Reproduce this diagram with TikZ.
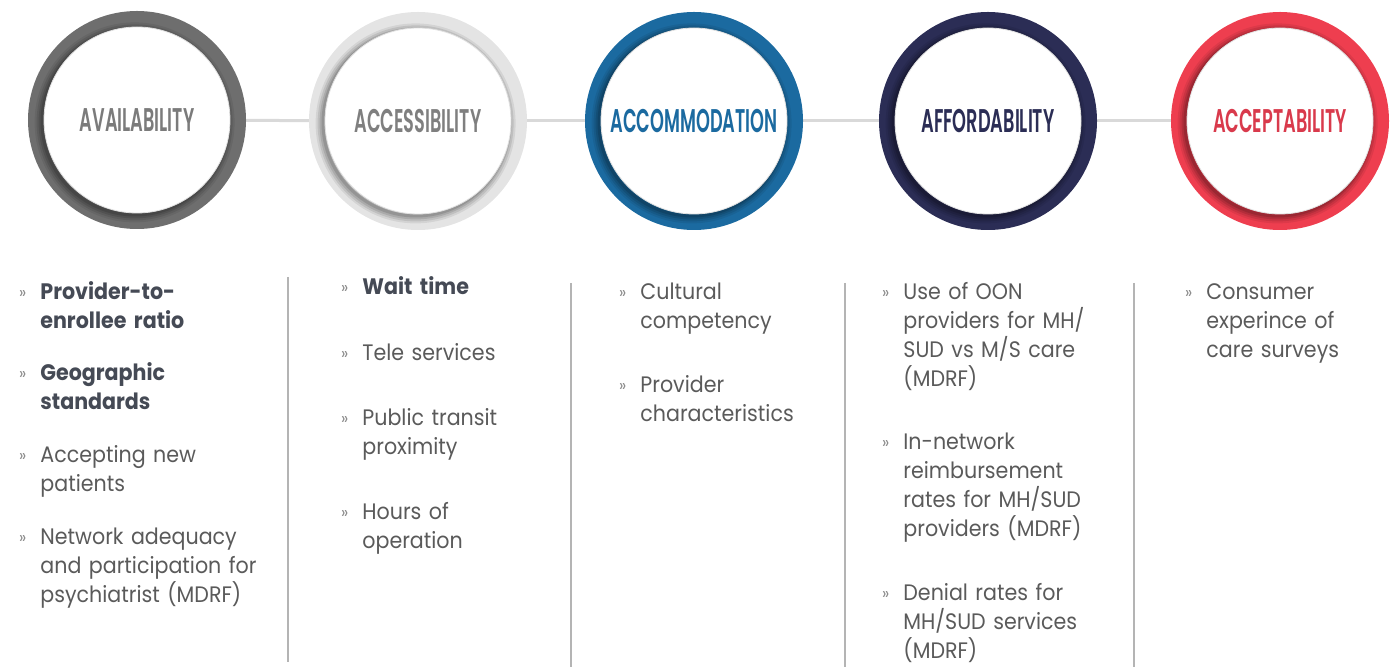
\documentclass[tikz,border=0pt]{standalone}
\usepackage{fontspec}
\setmainfont{Poppins}[FakeStretch=0.92]
\newfontfamily\headfont{Poppins SemiBold}[FakeStretch=0.54]
\usetikzlibrary{calc,backgrounds}

\definecolor{availgray}{HTML}{6E6E6E}
\definecolor{availtext}{HTML}{7B7B7B}
\definecolor{accessgray}{HTML}{E4E4E4}
\definecolor{accesstext}{HTML}{7F7F7F}
\definecolor{accomblue}{HTML}{1B6AA0}
\definecolor{afforddark}{HTML}{2B2D55}
\definecolor{acceptred}{HTML}{EE3E4F}
\definecolor{accepttext}{HTML}{D93A4C}
\definecolor{linkgray}{HTML}{D9D9D9}
\definecolor{rulegray}{HTML}{B4B4B4}
\definecolor{bodygray}{HTML}{5A5A5A}
\definecolor{keydark}{HTML}{454A55}
\definecolor{bulletgray}{HTML}{8A8A8A}

% small guillemet hanging left of the first line
\newcommand{\bul}{\llap{\textcolor{bulletgray}{\mdseries\fontsize{8.5}{8.5}\selectfont\raisebox{0.5pt}{»}}\hspace{7pt}}}

\begin{document}
\begin{tikzpicture}[x=0.5pt, y=-0.5pt,
  % white disk, thick coloured ring behind it, soft shadow down-left
  ring/.style={circle, fill=white, draw=black!12, line width=0.4pt, minimum size=93pt, inner sep=0pt,
    font=\headfont\fontsize{16.4}{18}\selectfont,
    preaction={draw=#1, line width=16pt},
    preaction={draw=black, draw opacity=0.07, line width=7pt, transform canvas={shift={(-1.2pt,-1.2pt)}}},
    preaction={draw=black, draw opacity=0.09, line width=5pt, transform canvas={shift={(-1.2pt,-1.2pt)}}},
    preaction={draw=black, draw opacity=0.11, line width=3pt, transform canvas={shift={(-1.2pt,-1.2pt)}}},
    preaction={draw=black, draw opacity=0.13, line width=1.5pt, transform canvas={shift={(-1pt,-1pt)}}}},
  link/.style={draw=linkgray, line width=1.5pt},
  sep/.style={draw=rulegray, line width=0.7pt},
  item/.style={anchor=base west, text width=150pt, align=left, inner sep=0pt, text=bodygray,
    font=\fontsize{11.2}{14.35}\selectfont},
  key/.style={item, text=keydark, font=\fontsize{11.2}{14.35}\selectfont\bfseries}]
\useasboundingbox (0,0) rectangle (1392,667);

% the five dimensions
\node[ring=availgray, text=availtext] (avail) at (137,120) {AVAILABILITY};
\node[ring=accessgray, text=accesstext] (access) at (418,121) {ACCESSIBILITY};
\node[ring=accomblue, text=accomblue] (accom) at (694,121) {ACCOMMODATION};
\node[ring=afforddark, text=afforddark] (afford) at (988,121) {AFFORDABILITY};
\node[ring=acceptred, text=accepttext] (accept) at (1280,121) {ACCEPTABILITY};

\begin{scope}[on background layer]
\draw[link] (avail) -- (access);
\draw[link] (access) -- (accom);
\draw[link] (accom) -- (afford);
\draw[link] (afford) -- (accept);
\end{scope}

% column rules
\draw[sep] (288,277) -- (288,662);
\draw[sep] (571,283) -- (571,667);
\draw[sep] (845,283) -- (845,667);
\draw[sep] (1134,283) -- (1134,667);

% availability
\node[key] (avail1) at (40,300) {\bul Provider-to-\\enrollee ratio};
\node[key] (avail2) at (40,381) {\bul Geographic\\standards};
\node[item] (avail3) at (40,463) {\bul Accepting new\\patients};
\node[item] (avail4) at (40,545) {\bul Network adequacy\\and participation for\\psychiatrist (MDRF)};

% accessibility
\node[key] (access1) at (362,295) {\bul Wait time};
\node[item] (access2) at (362,361) {\bul Tele services};
\node[item] (access3) at (362,426) {\bul Public transit\\proximity};
\node[item] (access4) at (362,520) {\bul Hours of\\operation};

% accommodation
\node[item] (accom1) at (640,300) {\bul Cultural\\competency};
\node[item] (accom2) at (640,393) {\bul Provider\\characteristics};

% affordability
\node[item] (afford1) at (903,300) {\bul Use of OON\\providers for MH/\\SUD vs M/S care\\(MDRF)};
\node[item] (afford2) at (903,450) {\bul In-network\\reimbursement\\rates for MH/SUD\\providers (MDRF)};
\node[item] (afford3) at (903,601) {\bul Denial rates for\\MH/SUD services\\(MDRF)};

% acceptability
\node[item] (accept1) at (1206,300) {\bul Consumer\\experince of\\care surveys};
\end{tikzpicture}
\end{document}
